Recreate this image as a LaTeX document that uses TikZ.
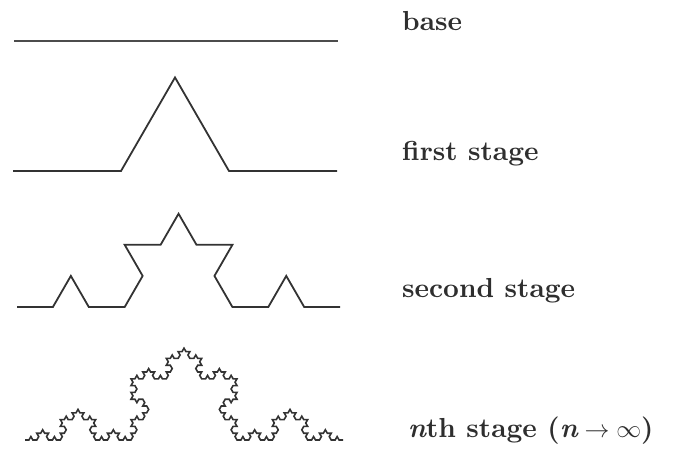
\documentclass[tikz,border=0pt]{standalone}
\usepackage{fontspec}
% Latin Modern at its 10pt design size, scaled up for the labels
\newfontfamily\stagefont{lmroman10-bold.otf}
\newfontfamily\stagefontit{lmroman10-bolditalic.otf}
\tikzset{
  declare function={
    kturn(\d)=60*((\d==1)-(\d==2));
    kdir(\k)=kturn(mod(floor(\k),4))+kturn(mod(floor(\k/4),4))+kturn(mod(floor(\k/16),4))+kturn(mod(floor(\k/64),4));
  },
  curve/.style={draw=black!80, line width=1.8pt, line join=miter},
  stagelabel/.style={anchor=base west, inner sep=0pt, font=\fontsize{27.5}{32}\stagefont, text=black!82}
}
\newcommand\nthstagetext{{\stagefontit n}th stage ({\stagefontit n}$\;\rightarrow\infty$)}
\begin{document}
\begin{tikzpicture}[x=1pt,y=1pt]
  \useasboundingbox (0,0) rectangle (680,451);
  % base: a straight segment
  \coordinate (b0) at (14,410);
  \coordinate (b1) at (338,410);
  \draw[curve, draw=black!70] (b0) -- (b1);
  % first stage: 4 segments
  \coordinate (s1) at (13,280);
  \draw[curve] (s1) \foreach \k [evaluate=\k as \a using {kdir(\k)}] in {0,...,3} { -- ++(\a:108pt) };
  % second stage: 16 segments
  \coordinate (s2) at (17,144);
  \draw[curve] (s2) \foreach \k [evaluate=\k as \a using {kdir(\k)}] in {0,...,15} { -- ++(\a:35.9pt) };
  % n-th stage, drawn with 256 segments
  \coordinate (s4) at (25,11);
  \draw[curve, line width=1.6pt] (s4) \foreach \k [evaluate=\k as \a using {kdir(\k)}] in {0,...,255} { -- ++(\a:3.926pt) };
  % labels
  \node[stagelabel] (l0) at (402,420) {base};
  \node[stagelabel] (l1) at (402,291) {first stage};
  \node[stagelabel] (l2) at (402,154) {second stage};
  \node[stagelabel] (l3) at (408,14) {\nthstagetext};
\end{tikzpicture}
\end{document}
